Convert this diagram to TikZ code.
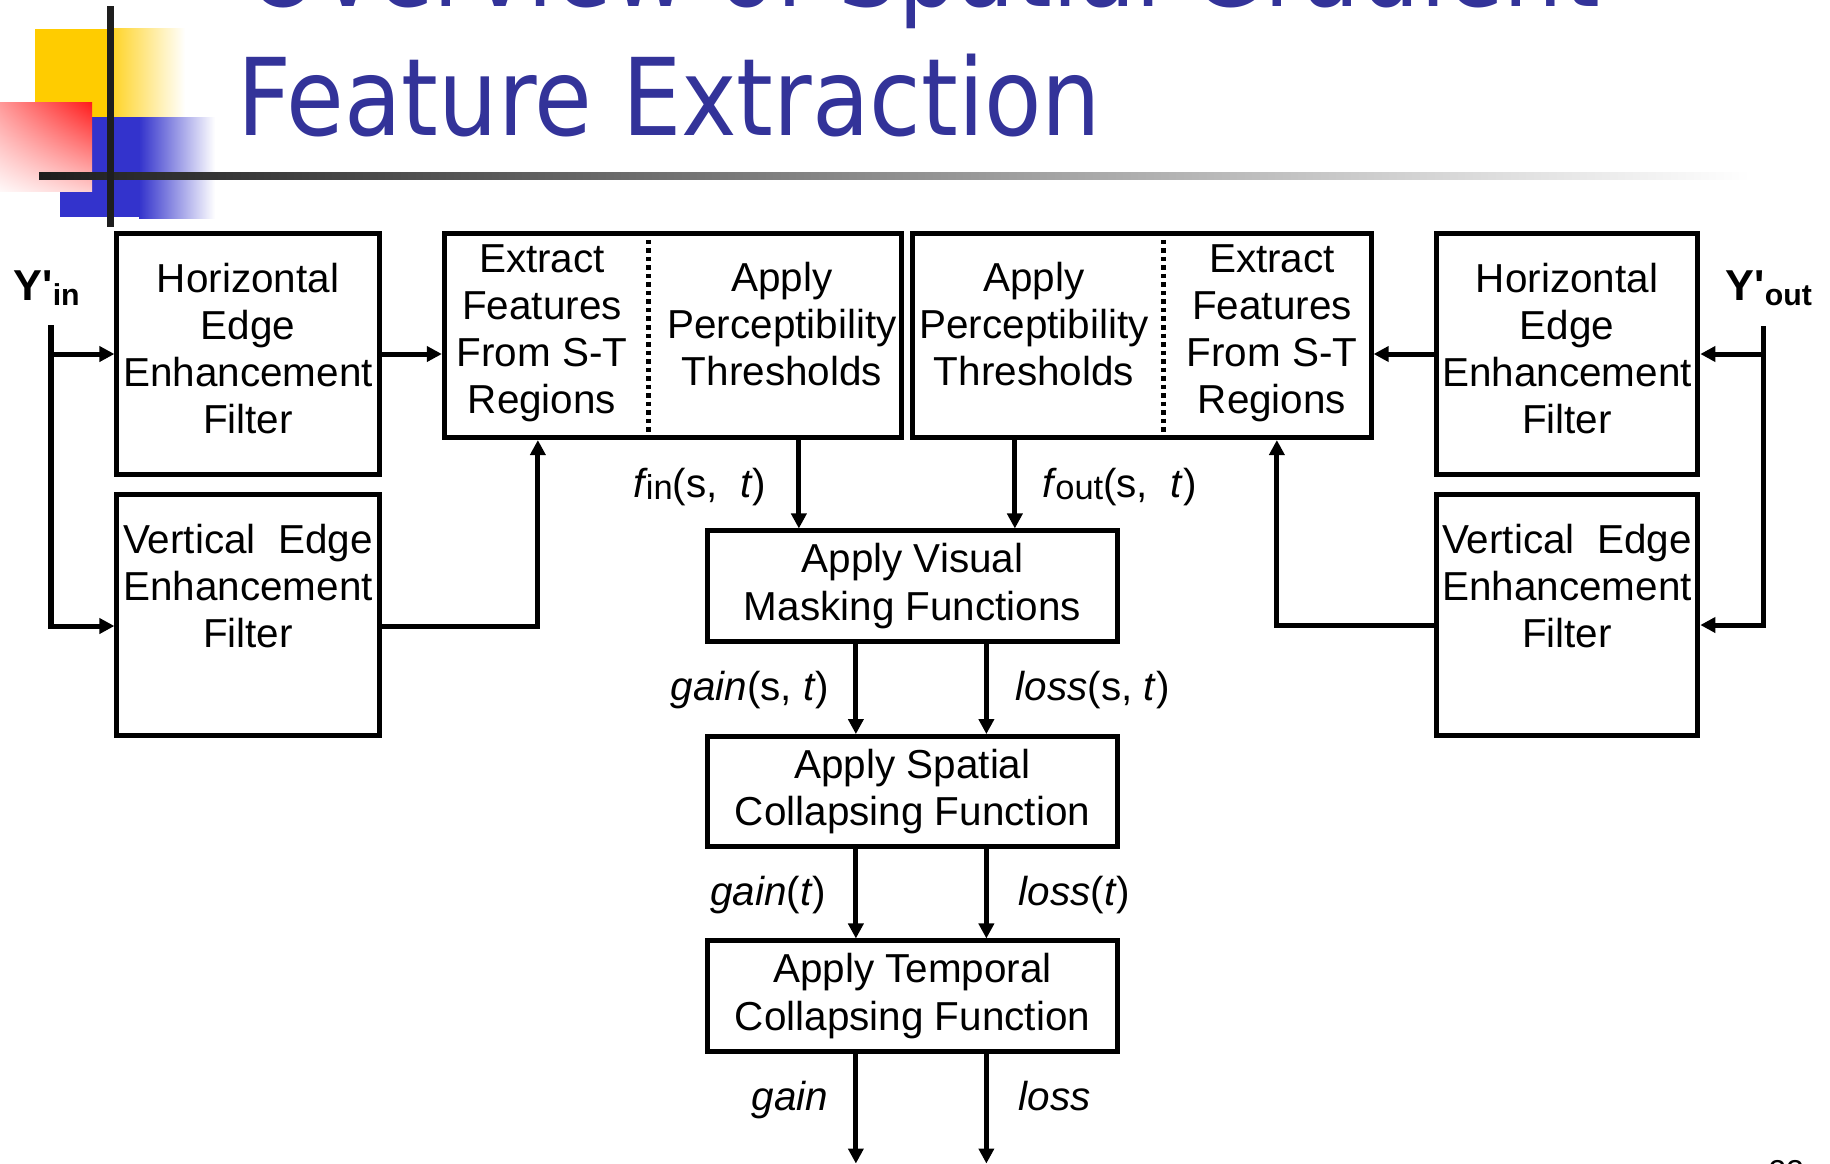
\documentclass[tikz,border=0pt]{standalone}
\usepackage{fontspec}
\setmainfont{Liberation Sans}
\newfontfamily\titlefont{DejaVu Sans}
\newfontfamily\rawsans[Ligatures=TeXOff]{Liberation Sans}
\usepackage{calc}
\usetikzlibrary{arrows.meta,calc,shadings}
\definecolor{titleblue}{RGB}{51,51,153}
\definecolor{logoyellow}{RGB}{255,204,0}
\definecolor{logoblue}{RGB}{51,51,204}
\definecolor{logored}{RGB}{255,26,26}
\definecolor{barblack}{RGB}{30,30,30}
\newcommand\bodyfont{\fontsize{11.5}{13.4}\selectfont}
\newcommand\subtxt[1]{\kern-0.6pt\raisebox{-0.6pt}{\fontsize{9.8}{10}\selectfont #1}}
\newcommand\ysub[1]{\raisebox{-1.7pt}{\fontsize{8.6}{9}\selectfont\bfseries #1}}
\newcommand\vedge{\makebox[\widthof{Enhancement}][s]{Vertical\hfill Edge}}
\begin{document}
\begin{tikzpicture}[x=0.01cm,y=-0.01cm,
  box/.style={draw, line width=0.5mm, inner sep=0pt},
  txt/.style={inner sep=0pt, align=center, font=\bodyfont},
  lbl/.style={inner sep=0pt, font=\bodyfont},
  ylbl/.style={anchor=base west, inner sep=0pt, font=\rawsans\fontsize{12.3}{14}\selectfont\bfseries},
  ttl/.style={anchor=base west, inner sep=0pt, text=titleblue, font=\titlefont\fontsize{30.5}{36}\selectfont},
  arr/.style={line width=0.5mm, -{Triangle[length=1.5mm,width=1.5mm]}},
  divider/.style={line width=0.5mm, dash pattern=on 0.45mm off 0.4mm}]
\useasboundingbox (0,0) rectangle (1830,1163);
\clip (0,0) rectangle (1830,1163);
% ---- logo ----
\fill[logoyellow] (35,29) rectangle (112,117);
\shade[left color=logoyellow!85!white, right color=white] (112,28) rectangle (185,117);
\fill[logoblue] (60,117) rectangle (140,217);
\shade[left color=logoblue, right color=white] (139,117) rectangle (215,218);
\shade[upper right=logored, upper left={logored!45!white}, lower right={logored!22!white}, lower left={logored!3!white}] (0,102) rectangle (92,191);
\shade[left color=barblack, right color=white] (39,172) rectangle (1750,179);
\fill[barblack] (107,6) rectangle (114,227);
% ---- title ----
\node[ttl] (title1) at (246,6) {\scalebox{0.875}[1]{Overview of Spatial Gradient}};
\node[ttl] (title2) at (237,135) {\scalebox{0.875}[1]{Feature Extraction}};
% ---- left filters ----
\node[box, minimum width=2.62cm, minimum height=2.40cm] (hl) at (248,354) {};
\node[txt] (hlt) at (248,348.5) {Horizontal\\Edge\\Enhancement\\Filter};
\node[box, minimum width=2.62cm, minimum height=2.40cm] (vl) at (248,615) {};
\node[txt] (vlt) at (248,585.7) {\vedge\\Enhancement\\Filter};
% ---- right filters ----
\node[box, minimum width=2.615cm, minimum height=2.40cm] (hr) at (1567,354) {};
\node[txt] (hrt) at (1567,348.5) {Horizontal\\Edge\\Enhancement\\Filter};
\node[box, minimum width=2.615cm, minimum height=2.40cm] (vr) at (1567,615) {};
\node[txt] (vrt) at (1567,585.7) {\vedge\\Enhancement\\Filter};
% ---- feature boxes ----
\node[box, minimum width=4.57cm, minimum height=2.035cm] (exl) at (673,335.75) {};
\node[txt] (exlt) at (542,333) {Extract\\Features\\From S-T\\Regions};
\node[txt] (aplt) at (782,324) {Apply\\Perceptibility\\Thresholds};
\draw[divider] ($(exl.north west)+(207,0)$) -- ($(exl.south west)+(207,0)$);
\node[box, minimum width=4.585cm, minimum height=2.035cm] (exr) at (1141.75,335.75) {};
\node[txt] (aprt) at (1034,324) {Apply\\Perceptibility\\Thresholds};
\node[txt] (exrt) at (1272,333) {Extract\\Features\\From S-T\\Regions};
\draw[divider] ($(exr.north west)+(254,0)$) -- ($(exr.south west)+(254,0)$);
% ---- middle chain ----
\node[box, txt, minimum width=4.10cm, minimum height=1.10cm] (vis) at (912.5,586) {Apply Visual\\Masking Functions};
\node[box, txt, minimum width=4.10cm, minimum height=1.10cm] (spa) at (912.5,791.6) {Apply Spatial\\Collapsing Function};
\node[box, txt, minimum width=4.10cm, minimum height=1.10cm] (tmp) at (912.5,996) {Apply Temporal\\Collapsing Function};
% ---- inputs ----
\node[ylbl] (yinl) at (13,300) {Y'\ysub{in}};
\node[ylbl] (youtl) at (1725,300) {Y'\ysub{out}};
\coordinate (yin) at (51,325);
\coordinate (yout) at (1763,326);
\draw[arr] (yin) |- ($(vl.west)+(0,11)$);
\draw[arr] (yin |- hl.west) -- (hl.west);
\draw[arr] (yout) |- ($(vr.east)+(0,10)$);
\draw[arr] (yout |- hr.east) -- (hr.east);
% ---- filters to features ----
\draw[arr] (hl.east) -- (hl.east -| exl.west);
\draw[arr] ($(vl.east)+(0,11)$) -| ($(exl.south west)+(96,0)$);
\draw[arr] (hr.west) -- (hr.west -| exr.east);
\draw[arr] ($(vr.west)+(0,10)$) -| ($(exr.south west)+(367,0)$);
% ---- features to masking ----
\draw[arr] ($(exl.south west)+(357,0)$) coordinate (fa) -- (fa |- vis.north);
\draw[arr] ($(exr.south west)+(105,0)$) coordinate (fb) -- (fb |- vis.north);
\node[lbl, anchor=base east] (finl) at (767,497) {\textit{f}\subtxt{in}(s,\ \ \textit{t})};
\node[lbl, anchor=base west] (foutl) at (1042,497) {\textit{f}\subtxt{out}(s,\ \ \textit{t})};
% ---- chain arrows ----
\draw[arr] ($(vis.south west)+(151,0)$) coordinate (g1) -- (g1 |- spa.north);
\draw[arr] ($(vis.south west)+(281.5,0)$) coordinate (l1) -- (l1 |- spa.north);
\node[lbl, anchor=base east] (g1l) at (830,700) {\textit{gain}(s, \textit{t})};
\node[lbl, anchor=base west] (l1l) at (1015,700) {\textit{loss}(s, \textit{t})};
\draw[arr] (spa.south -| g1) -- (g1 |- tmp.north);
\draw[arr] (spa.south -| l1) -- (l1 |- tmp.north);
\node[lbl, anchor=base east] (g2l) at (827,905) {\textit{gain}(\textit{t})};
\node[lbl, anchor=base west] (l2l) at (1018,905) {\textit{loss}(\textit{t})};
\draw[arr] (tmp.south -| g1) -- ++(0,110);
\draw[arr] (tmp.south -| l1) -- ++(0,110);
\node[lbl, anchor=base east] (g3l) at (829,1110) {\textit{gain}};
\node[lbl, anchor=base west] (l3l) at (1018,1110) {\textit{loss}};
% ---- page number (cut off) ----
\node[anchor=base west, inner sep=0pt, font=\fontsize{9}{10}\selectfont] (pnum) at (1768,1182) {23};
\end{tikzpicture}
\end{document}
